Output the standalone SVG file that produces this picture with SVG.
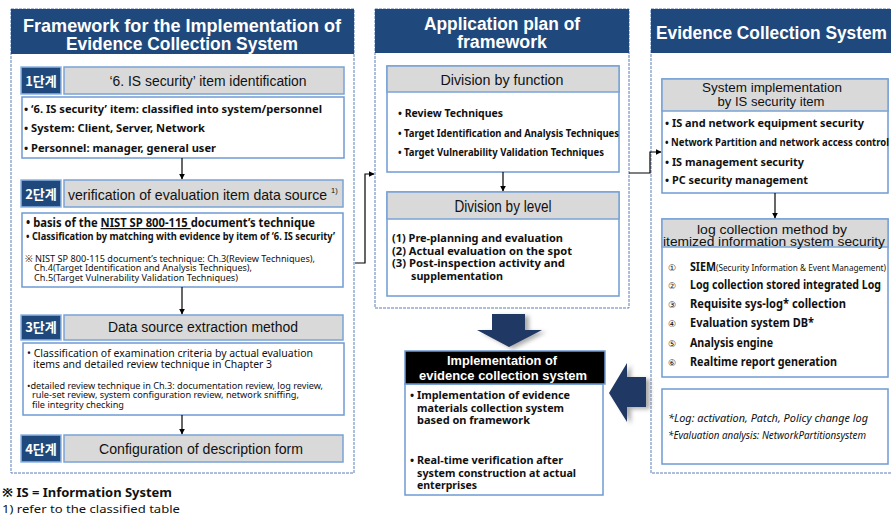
<svg xmlns="http://www.w3.org/2000/svg" width="891" height="516" viewBox="0 0 891 516">
<style>
.panel{fill:#fff;stroke:#5a7fb5;stroke-width:1;stroke-dasharray:3,1}
.hdr{fill:#1f497d}
.ttl{fill:#fff;font-family:"Liberation Sans",Arial,sans-serif;font-weight:bold;text-anchor:middle}
.lbl{fill:#1f497d;stroke:#8eb4e3;stroke-width:1.5}
.lbt{fill:#fff;font-family:"Noto Sans CJK KR","Liberation Sans",sans-serif;font-weight:bold;font-size:13px;text-anchor:middle}
.gry{fill:#d9d9d9;stroke:#7aa3d6;stroke-width:1.5}
.box{fill:#fff;stroke:#6f9bd3;stroke-width:1.5}
.gt{fill:#111;font-family:"Liberation Sans",Arial,sans-serif;text-anchor:middle}
.ct{fill:#111;font-family:"Noto Sans","Liberation Sans",sans-serif;font-weight:bold}
.cn{fill:#111;font-family:"Noto Sans","Liberation Sans",sans-serif}
.con{fill:none;stroke:#000;stroke-width:1.2}
.big{fill:#1f3864}
.shd{fill:#888;opacity:0.7}
</style>
<defs>
<marker id="ah" viewBox="0 0 10 10" refX="9" refY="5" markerWidth="6" markerHeight="6" orient="auto" markerUnits="userSpaceOnUse"><path d="M0,0 L10,5 L0,10 z" fill="#000"/></marker>
<filter id="blur" x="-20%" y="-20%" width="140%" height="140%"><feGaussianBlur stdDeviation="2"/></filter>
</defs>

<g id="left-panel">
<rect class="panel" x="11" y="9" width="343" height="464"/>
<rect class="hdr" x="11" y="9" width="343" height="45"/>
<text class="ttl" x="182" y="32" font-size="18.5" textLength="318" lengthAdjust="spacingAndGlyphs">Framework for the Implementation of</text>
<text class="ttl" x="182" y="50" font-size="18.5" textLength="232" lengthAdjust="spacingAndGlyphs">Evidence Collection System</text>
</g>

<g id="step1">
<rect class="lbl" x="21" y="67" width="40" height="27"/>
<text class="lbt" x="41" y="86">1단계</text>
<rect class="gry" x="64" y="67" width="280" height="27"/>
<text class="gt" x="208" y="86" font-size="14" textLength="197" lengthAdjust="spacingAndGlyphs">‘6. IS security’ item identification</text>
<rect class="box" x="22" y="97" width="322" height="61"/>
<text class="ct" x="24" y="113" font-size="11" textLength="298" lengthAdjust="spacingAndGlyphs">• ‘6. IS security’ item: classified into system/personnel</text>
<text class="ct" x="24" y="132" font-size="11" textLength="181" lengthAdjust="spacingAndGlyphs">• System: Client, Server, Network</text>
<text class="ct" x="24" y="152" font-size="11" textLength="192" lengthAdjust="spacingAndGlyphs">• Personnel: manager, general user</text>
</g>

<g id="step2">
<rect class="lbl" x="21" y="180" width="40" height="27"/>
<text class="lbt" x="41" y="199">2단계</text>
<rect class="gry" x="64" y="180" width="279" height="27"/>
<text class="gt" x="68" y="200" font-size="15" style="text-anchor:start" textLength="259" lengthAdjust="spacingAndGlyphs">verification  of evaluation item data source</text>
<text class="gt" x="331" y="193" font-size="7.5" style="text-anchor:start">1)</text>
<rect class="box" x="22" y="213" width="321" height="74"/>
<text class="ct" x="26" y="227" font-size="12.5" textLength="289" lengthAdjust="spacingAndGlyphs">• basis of the <tspan text-decoration="underline">NIST SP 800-115 </tspan>document’s technique</text>
<text class="ct" x="26" y="240" font-size="10.5" textLength="309" lengthAdjust="spacingAndGlyphs">• Classification by matching with evidence by item of ‘6. IS security’</text>
<text class="cn" x="25" y="262" font-size="8.5" textLength="290" lengthAdjust="spacingAndGlyphs">※ NIST SP 800-115 document’s technique: Ch.3(Review Techniques),</text>
<text class="cn" x="34" y="271" font-size="8.5" textLength="218" lengthAdjust="spacingAndGlyphs">Ch.4(Target Identification and Analysis Techniques),</text>
<text class="cn" x="34" y="281" font-size="8.5" textLength="204" lengthAdjust="spacingAndGlyphs">Ch.5(Target Vulnerability Validation Techniques)</text>
</g>

<g id="step3">
<rect class="lbl" x="21" y="315" width="40" height="25"/>
<text class="lbt" x="41" y="332">3단계</text>
<rect class="gry" x="64" y="315" width="279" height="25"/>
<text class="gt" x="203" y="332" font-size="14" textLength="190" lengthAdjust="spacingAndGlyphs">Data source extraction method</text>
<rect class="box" x="23" y="343" width="321" height="72"/>
<text class="cn" x="27" y="357" font-size="10.5" textLength="286" lengthAdjust="spacingAndGlyphs">• Classification of examination criteria by actual evaluation</text>
<text class="cn" x="33" y="368" font-size="10.5" textLength="239" lengthAdjust="spacingAndGlyphs">items and detailed review technique in Chapter 3</text>
<text class="cn" x="27" y="389" font-size="8.5" textLength="296" lengthAdjust="spacingAndGlyphs">•detailed review technique in Ch.3: documentation review, log review,</text>
<text class="cn" x="32" y="398" font-size="8.5" textLength="267" lengthAdjust="spacingAndGlyphs">rule-set review, system configuration review, network sniffing,</text>
<text class="cn" x="32" y="408" font-size="8.5" textLength="92" lengthAdjust="spacingAndGlyphs">file integrity checking</text>
</g>

<g id="step4">
<rect class="lbl" x="21" y="435" width="40" height="27"/>
<text class="lbt" x="41" y="454">4단계</text>
<rect class="gry" x="64" y="435" width="279" height="27"/>
<text class="gt" x="201" y="454" font-size="15" textLength="204" lengthAdjust="spacingAndGlyphs">Configuration of description form</text>
</g>

<g id="footnotes">
<text class="ct" x="2" y="497" font-size="11.5" textLength="170" lengthAdjust="spacingAndGlyphs">※ IS = Information System</text>
<text class="cn" x="2" y="513" font-size="11.5" textLength="178" lengthAdjust="spacingAndGlyphs">1) refer to the classified table</text>
</g>

<g id="middle-panel">
<rect class="panel" x="375" y="9" width="254" height="299"/>
<rect class="hdr" x="375" y="9" width="254" height="44"/>
<text class="ttl" x="502" y="30" font-size="18" textLength="156" lengthAdjust="spacingAndGlyphs">Application plan of</text>
<text class="ttl" x="502" y="48" font-size="18" textLength="90" lengthAdjust="spacingAndGlyphs">framework</text>
</g>

<g id="division-function">
<rect class="box" x="387" y="66" width="232" height="106"/>
<rect class="gry" x="387" y="66" width="232" height="26"/>
<text class="gt" x="502" y="85" font-size="14" textLength="123" lengthAdjust="spacingAndGlyphs">Division  by function</text>
<text class="ct" x="398" y="117" font-size="11" textLength="105" lengthAdjust="spacingAndGlyphs">• Review Techniques</text>
<text class="ct" x="398" y="137" font-size="11" textLength="221" lengthAdjust="spacingAndGlyphs">• Target Identification and Analysis Techniques</text>
<text class="ct" x="398" y="156" font-size="11" textLength="206" lengthAdjust="spacingAndGlyphs">• Target Vulnerability Validation Techniques</text>
</g>

<g id="division-level">
<rect class="box" x="387" y="192" width="232" height="104"/>
<rect class="gry" x="387" y="192" width="232" height="27"/>
<text class="gt" x="503" y="212" font-size="16" textLength="97" lengthAdjust="spacingAndGlyphs">Division by level</text>
<text class="ct" x="392" y="242" font-size="11" textLength="171" lengthAdjust="spacingAndGlyphs">(1) Pre-planning and evaluation</text>
<text class="ct" x="392" y="255" font-size="11" textLength="180" lengthAdjust="spacingAndGlyphs">(2) Actual evaluation on the spot</text>
<text class="ct" x="392" y="267" font-size="11" textLength="173" lengthAdjust="spacingAndGlyphs">(3) Post-inspection  activity and</text>
<text class="ct" x="411" y="280" font-size="11" textLength="92" lengthAdjust="spacingAndGlyphs">supplementation</text>
</g>

<g id="implementation">
<rect class="box" x="405" y="384" width="198" height="111"/>
<rect x="405" y="351" width="200" height="33" fill="#000" stroke="#6f9bd3" stroke-width="1.5"/>
<text class="ttl" x="502" y="365" font-size="13" font-weight="normal" textLength="110" lengthAdjust="spacingAndGlyphs">Implementation of</text>
<text class="ttl" x="503" y="380" font-size="13" textLength="168" lengthAdjust="spacingAndGlyphs">evidence collection system</text>
<text class="ct" x="410" y="399" font-size="11">•</text>
<text class="ct" x="417" y="399" font-size="11" textLength="153" lengthAdjust="spacingAndGlyphs">Implementation of evidence</text>
<text class="ct" x="417" y="412" font-size="11" textLength="147" lengthAdjust="spacingAndGlyphs">materials collection system</text>
<text class="ct" x="417" y="424" font-size="11" textLength="113" lengthAdjust="spacingAndGlyphs">based on framework</text>
<text class="ct" x="410" y="464" font-size="11">•</text>
<text class="ct" x="417" y="464" font-size="11" textLength="146" lengthAdjust="spacingAndGlyphs">Real-time verification after</text>
<text class="ct" x="417" y="477" font-size="11" textLength="159" lengthAdjust="spacingAndGlyphs">system construction at actual</text>
<text class="ct" x="417" y="489" font-size="11" textLength="60" lengthAdjust="spacingAndGlyphs">enterprises</text>
</g>

<g id="right-panel">
<rect class="panel" x="651" y="9" width="250" height="464"/>
<rect class="hdr" x="651" y="9" width="250" height="44"/>
<text class="ttl" x="656" y="39" font-size="18" style="text-anchor:start" textLength="231" lengthAdjust="spacingAndGlyphs">Evidence Collection System</text>
</g>

<g id="system-implementation">
<rect class="box" x="662" y="79" width="226" height="114"/>
<rect class="gry" x="662" y="79" width="226" height="32"/>
<text class="gt" x="772" y="92" font-size="13" textLength="140" lengthAdjust="spacingAndGlyphs">System implementation</text>
<text class="gt" x="771" y="106" font-size="13" textLength="107" lengthAdjust="spacingAndGlyphs">by IS security item</text>
<text class="ct" x="665" y="127" font-size="11" textLength="199" lengthAdjust="spacingAndGlyphs">• IS and network equipment security</text>
<text class="ct" x="665" y="146" font-size="10.5" textLength="224" lengthAdjust="spacingAndGlyphs">• Network Partition and network access control</text>
<text class="ct" x="665" y="166" font-size="11" textLength="139" lengthAdjust="spacingAndGlyphs">• IS management security</text>
<text class="ct" x="665" y="184" font-size="11" textLength="143" lengthAdjust="spacingAndGlyphs">• PC security management</text>
</g>

<g id="log-collection">
<rect class="box" x="662" y="219" width="226" height="158"/>
<rect class="gry" x="662" y="219" width="226" height="28"/>
<text class="gt" x="772" y="234" font-size="13" textLength="150" lengthAdjust="spacingAndGlyphs">log collection method by</text>
<text class="gt" x="774" y="246" font-size="13" textLength="222" lengthAdjust="spacingAndGlyphs">itemized information system security</text>
<text class="cn" x="668" y="271" font-size="9">①</text>
<text class="cn" x="668" y="289" font-size="9">②</text>
<text class="cn" x="668" y="308" font-size="9">③</text>
<text class="cn" x="668" y="327" font-size="9">④</text>
<text class="cn" x="668" y="347" font-size="9">⑤</text>
<text class="cn" x="668" y="366" font-size="9">⑥</text>
<text class="ct" x="690" y="271" font-size="12" textLength="26" lengthAdjust="spacingAndGlyphs">SIEM</text>
<text class="cn" x="716" y="271" font-size="8" textLength="170" lengthAdjust="spacingAndGlyphs">(Security Information &amp; Event Management)</text>
<text class="ct" x="690" y="289" font-size="12" textLength="191" lengthAdjust="spacingAndGlyphs">Log collection stored integrated Log</text>
<text class="ct" x="690" y="308" font-size="12" textLength="156" lengthAdjust="spacingAndGlyphs">Requisite  sys-log* collection</text>
<text class="ct" x="690" y="327" font-size="12" textLength="124" lengthAdjust="spacingAndGlyphs">Evaluation system DB*</text>
<text class="ct" x="690" y="347" font-size="12" textLength="83" lengthAdjust="spacingAndGlyphs">Analysis engine</text>
<text class="ct" x="690" y="366" font-size="12" textLength="147" lengthAdjust="spacingAndGlyphs">Realtime report generation</text>
</g>

<g id="notes">
<rect class="box" x="662" y="389" width="226" height="75"/>
<text class="cn" x="668" y="422" font-size="10" font-style="italic" textLength="200" lengthAdjust="spacingAndGlyphs">*Log: activation, Patch, Policy change log</text>
<text class="cn" x="668" y="439" font-size="10" font-style="italic" textLength="198" lengthAdjust="spacingAndGlyphs">*Evaluation analysis: NetworkPartitionsystem</text>
</g>

<g id="connectors">
<line class="con" x1="182" y1="158" x2="182" y2="179" marker-end="url(#ah)"/>
<line class="con" x1="182" y1="287" x2="182" y2="314" marker-end="url(#ah)"/>
<line class="con" x1="182" y1="415" x2="182" y2="434" marker-end="url(#ah)"/>
<line class="con" x1="503" y1="172" x2="503" y2="191" marker-end="url(#ah)"/>
<line class="con" x1="775" y1="193" x2="775" y2="218" marker-end="url(#ah)"/>
<path class="con" d="M355,263 H365 V174 H374" marker-end="url(#ah)"/>
<path class="con" d="M629,173 H650 V152 H661" marker-end="url(#ah)"/>
<polygon class="shd" filter="url(#blur)" points="496,316 529,316 529,332 546,332 513,349 481,332 496,332"/>
<polygon class="big" points="492,314 525,314 525,330 542,330 509,347 477,330 492,330"/>
<polygon class="shd" filter="url(#blur)" points="613,395 631,365 631,379 650,379 650,409 631,409 631,424"/>
<polygon class="big" points="609,393 627,363 627,377 646,377 646,407 627,407 627,422"/>
</g>
</svg>
